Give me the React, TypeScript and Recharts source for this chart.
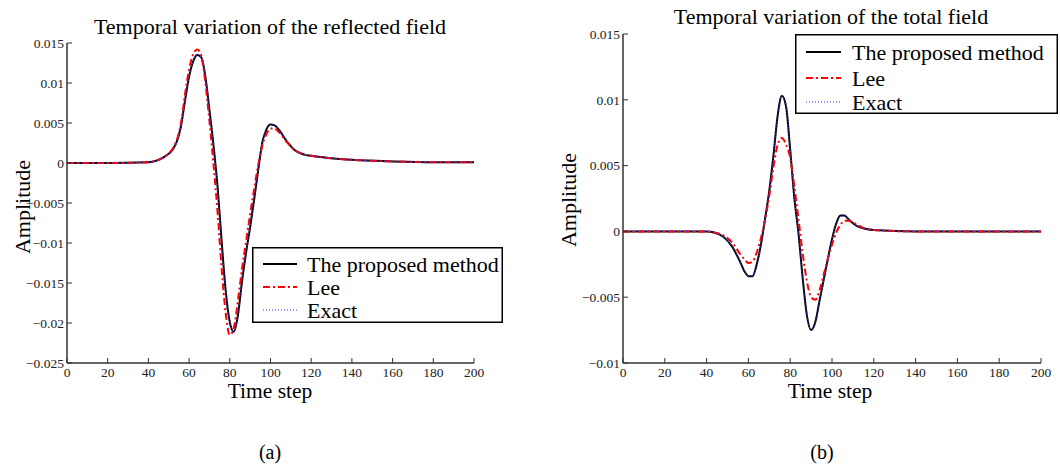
import React from 'react';
import { LineChart, Line, XAxis, YAxis, Legend } from 'recharts';

const FONT = '"Liberation Serif", "Times New Roman", Times, serif';

// ---------- (a) reflected field ----------
const timeA = [0, 20, 40, 44, 48, 52, 54, 56, 58, 60, 62, 64, 66, 68, 70, 72, 74, 76, 78, 80, 82, 84, 86, 88, 90, 92, 94, 96, 98, 100, 102, 104, 108, 112, 116, 120, 130, 140, 160, 180, 200];
const proposedA = [0, 0, 0.0001, 0.0003, 0.0008, 0.0017, 0.0027, 0.0046, 0.0078, 0.0108, 0.0127, 0.0135, 0.0132, 0.0108, 0.0066, 0.0022, -0.003, -0.0098, -0.016, -0.0199, -0.0211, -0.019, -0.0148, -0.0112, -0.008, -0.0045, -0.0008, 0.0026, 0.0042, 0.0048, 0.0047, 0.0042, 0.0027, 0.0016, 0.0011, 0.0009, 0.0006, 0.0004, 0.0002, 0.0001, 0.0001];
const leeA = [0, 0, 0.0001, 0.0003, 0.0008, 0.0018, 0.0029, 0.005, 0.0086, 0.0117, 0.0136, 0.0142, 0.0134, 0.01, 0.0052, -0.0002, -0.0062, -0.0132, -0.0188, -0.0215, -0.0206, -0.0172, -0.0132, -0.0098, -0.0064, -0.0032, -0.0002, 0.0022, 0.0036, 0.0043, 0.0043, 0.0039, 0.0026, 0.0016, 0.0011, 0.0009, 0.0006, 0.0004, 0.0002, 0.0001, 0.0001];
const exactA = [0, 0, 0.0001, 0.0003, 0.0008, 0.0017, 0.0027, 0.0046, 0.0079, 0.0109, 0.0128, 0.0136, 0.0132, 0.0107, 0.0064, 0.002, -0.0032, -0.01, -0.0162, -0.02, -0.0211, -0.0189, -0.0146, -0.011, -0.0078, -0.0043, -0.0006, 0.0027, 0.0043, 0.0048, 0.0047, 0.0042, 0.0027, 0.0016, 0.0011, 0.0009, 0.0006, 0.0004, 0.0002, 0.0001, 0.0001];
const yTicksA = [-0.025, -0.02, -0.015, -0.01, -0.005, 0, 0.005, 0.01, 0.015];

// ---------- (b) total field ----------
const timeB = [0, 20, 40, 44, 48, 52, 56, 58, 60, 62, 64, 66, 68, 70, 72, 74, 76, 78, 80, 82, 84, 86, 88, 90, 92, 94, 96, 98, 100, 102, 104, 106, 108, 112, 116, 120, 140, 160, 200];
const proposedB = [0, 0, 0, -0.0001, -0.0004, -0.0011, -0.0023, -0.003, -0.0034, -0.0034, -0.0025, -0.001, 0.001, 0.0031, 0.0058, 0.0088, 0.0103, 0.0095, 0.0062, 0.0025, -0.0002, -0.0036, -0.0064, -0.0075, -0.0069, -0.0053, -0.0037, -0.0021, -0.0006, 0.0006, 0.0012, 0.0012, 0.0009, 0.0004, 0.0002, 0.0001, 0, 0, 0];
const leeB = [0, 0, 0, -0.0001, -0.0003, -0.0008, -0.0017, -0.0021, -0.0024, -0.0023, -0.0016, -0.0005, 0.0009, 0.0027, 0.0049, 0.0066, 0.0071, 0.0066, 0.0056, 0.0034, 0.0009, -0.0017, -0.0038, -0.005, -0.0052, -0.0045, -0.0033, -0.0021, -0.001, -0.0001, 0.0005, 0.0008, 0.0008, 0.0005, 0.0002, 0.0001, 0, 0, 0];
const exactB = [0, 0, 0, -0.0001, -0.0004, -0.0011, -0.0023, -0.003, -0.0034, -0.0034, -0.0026, -0.0011, 0.001, 0.003, 0.0058, 0.0088, 0.0103, 0.0096, 0.0063, 0.0026, -0.0002, -0.0036, -0.0064, -0.0075, -0.007, -0.0054, -0.0038, -0.0022, -0.0007, 0.0005, 0.0011, 0.0012, 0.0009, 0.0004, 0.0002, 0.0001, 0, 0, 0];
const yTicksB = [-0.01, -0.005, 0, 0.005, 0.01, 0.015];

const xTicks = [0, 20, 40, 60, 80, 100, 120, 140, 160, 180, 200];
const seriesNames = ['The proposed method', 'Lee', 'Exact'];

const SERIES = [
  { key: 'proposed', name: seriesNames[0], color: '#000000', width: 2, dash: undefined as string | undefined },
  { key: 'lee', name: seriesNames[1], color: '#ff0000', width: 2, dash: '7 3 2 3' },
  { key: 'exact', name: seriesNames[2], color: '#3c3cff', width: 1.2, dash: '1 2' },
];

const fmt = (v: number) => {
  if (v === 0) return '0';
  const s = String(Math.abs(v));
  return v < 0 ? '\u2212' + s : s;
};

const makeLegend = (w: number, h: number, rows: number[], sx1: number, sx2: number, tx: number) => () => (
  <svg width={w} height={h} style={{ display: 'block', overflow: 'visible' }}>
    <rect x={0.75} y={0.75} width={w - 1.5} height={h - 1.5} fill="#fff" stroke="#000" strokeWidth={1.5} />
    {SERIES.map((s, i) => (
      <g key={s.key}>
        <line x1={sx1} x2={sx2} y1={rows[i]} y2={rows[i]} stroke={s.color} strokeWidth={s.width} strokeDasharray={s.dash} />
        <text x={tx} y={rows[i]} dy="0.35em" fontSize={22} fontFamily={FONT} fill="#000">{s.name}</text>
      </g>
    ))}
  </svg>
);

type PanelProps = {
  times: number[];
  proposed: number[];
  lee: number[];
  exact: number[];
  yTicks: number[];
  margin: { top: number; right: number; bottom: number; left: number };
  title: string;
  titleX: number;
  titleY: number;
  ylabelX: number;
  ylabelY: number;
  xlabelX: number;
  tag: string;
  tagX: number;
  legend: { left: number; top: number; width: number; height: number; rows: number[]; sx1: number; sx2: number; tx: number };
};

function Panel(p: PanelProps) {
  const data = p.times.map((t, i) => ({ t, proposed: p.proposed[i], lee: p.lee[i], exact: p.exact[i] }));
  const tickStyle = { fontSize: 13.5, fontFamily: FONT, fill: '#222' };
  const L = p.legend;
  return (
    <LineChart width={530} height={472} data={data} margin={p.margin}>
      <XAxis
        dataKey="t"
        type="number"
        domain={[0, 200]}
        ticks={xTicks}
        height={30}
        tickSize={-5}
        tickMargin={9}
        tick={tickStyle}
        axisLine={{ stroke: '#333', strokeWidth: 1.5 }}
        tickLine={{ stroke: '#333', strokeWidth: 1 }}
        interval={0}
      />
      <YAxis
        type="number"
        domain={[p.yTicks[0], p.yTicks[p.yTicks.length - 1]]}
        ticks={p.yTicks}
        width={60}
        tickSize={-5}
        tickMargin={8}
        tick={tickStyle}
        tickFormatter={fmt}
        axisLine={{ stroke: '#333', strokeWidth: 1.5 }}
        tickLine={{ stroke: '#333', strokeWidth: 1 }}
        interval={0}
        allowDataOverflow
      />
      {SERIES.map((s) => (
        <Line
          key={s.key}
          dataKey={s.key}
          name={s.name}
          type="monotone"
          stroke={s.color}
          strokeWidth={s.width}
          strokeDasharray={s.dash}
          dot={false}
          activeDot={false}
          isAnimationActive={false}
        />
      ))}
      <Legend
        layout="vertical"
        align="center"
        verticalAlign="middle"
        content={makeLegend(L.width, L.height, L.rows, L.sx1, L.sx2, L.tx)}
        wrapperStyle={{ left: L.left, top: L.top, width: L.width, height: L.height, margin: 0, padding: 0 }}
      />
      <text x={p.titleX} y={p.titleY} textAnchor="middle" fontSize={22} fontFamily={FONT} fill="#000">{p.title}</text>
      <text x={p.xlabelX} y={398} textAnchor="middle" fontSize={21.5} fontFamily={FONT} fill="#000">Time step</text>
      <text transform={`translate(${p.ylabelX},${p.ylabelY}) rotate(-90)`} textAnchor="middle" dy="0.35em" fontSize={22} fontFamily={FONT} fill="#000">Amplitude</text>
      <text x={p.tagX} y={459} textAnchor="middle" fontSize={20} fontFamily={FONT} fill="#000">{p.tag}</text>
    </LineChart>
  );
}

export default function App() {
  return (
    <div style={{ position: 'absolute', left: 0, top: 0, width: 1060, height: 472, background: '#fff', overflow: 'hidden' }}>
      <div style={{ position: 'absolute', left: 0, top: 0 }}>
        <Panel
          times={timeA}
          proposed={proposedA}
          lee={leeA}
          exact={exactA}
          yTicks={yTicksA}
          margin={{ top: 43, right: 56, bottom: 79, left: 7 }}
          title="Temporal variation of the reflected field"
          titleX={270}
          titleY={34}
          ylabelX={22}
          ylabelY={207}
          xlabelX={270}
          tag="(a)"
          tagX={270}
          legend={{ left: 252, top: 247, width: 251, height: 76, rows: [17, 40, 63], sx1: 11, sx2: 45, tx: 55 }}
        />
      </div>
      <div style={{ position: 'absolute', left: 530, top: 0 }}>
        <Panel
          times={timeB}
          proposed={proposedB}
          lee={leeB}
          exact={exactB}
          yTicks={yTicksB}
          margin={{ top: 34, right: 19, bottom: 79, left: 33 }}
          title="Temporal variation of the total field"
          titleX={301}
          titleY={24}
          ylabelX={38}
          ylabelY={200}
          xlabelX={300}
          tag="(b)"
          tagX={292}
          legend={{ left: 265, top: 34, width: 263, height: 80, rows: [18, 44, 68], sx1: 11, sx2: 46, tx: 57 }}
        />
      </div>
    </div>
  );
}
